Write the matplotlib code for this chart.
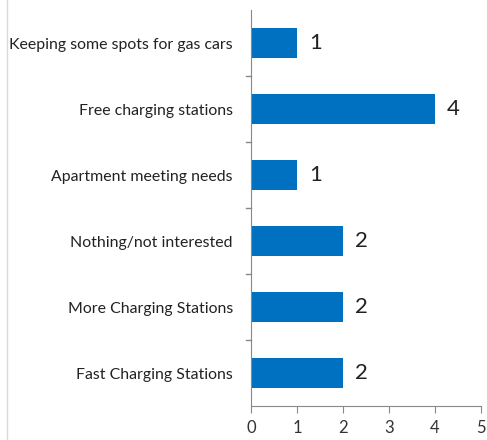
import matplotlib
matplotlib.use("Agg")
import matplotlib.pyplot as plt
from matplotlib.lines import Line2D

categories = ["Keeping some spots for gas cars", "Free charging stations",
              "Apartment meeting needs", "Nothing/not interested",
              "More Charging Stations", "Fast Charging Stations"]
values = [1, 4, 1, 2, 2, 2]
xticks = [0, 1, 2, 3, 4, 5]

plt.rcParams['font.family'] = ['Lato', 'DejaVu Sans']
fig = plt.figure(figsize=(4.87, 4.40), dpi=100)
ax = fig.add_axes([251/487, 1-406/440, 230/487, 396/440])

n = len(categories)
ypos = list(range(n))[::-1]
ax.barh(ypos, values, height=0.45, color='#0070C0')
for y, v in zip(ypos, values):
    ax.text(v + 0.26, y, str(v), va='center', ha='left', fontsize=16,
            color='#222222')

ax.set_xlim(0, 5)
ax.set_ylim(-0.5, n - 0.5)
ax.set_xticks(xticks)
ax.set_xticklabels([str(t) for t in xticks], fontsize=12, color='#333333')
ax.set_yticks(ypos)
ax.set_yticklabels(categories, fontsize=11.4, color='#222222')
ax.tick_params(axis='y', length=0, pad=13)
ax.tick_params(axis='x', length=5, color='#888888', pad=5)
for y in [i + 0.5 for i in range(n - 1)]:
    ax.plot([-0.1, 0], [y, y], color='#888888', lw=1, clip_on=False)
for s in ['top', 'right']:
    ax.spines[s].set_visible(False)
ax.spines['left'].set_color('#888888')
ax.spines['bottom'].set_color('#888888')

fig.add_artist(Line2D([7/487, 7/487], [0, 1], color='#d9d9d9', lw=1, transform=fig.transFigure))

fig.savefig("out.png", dpi=100)
